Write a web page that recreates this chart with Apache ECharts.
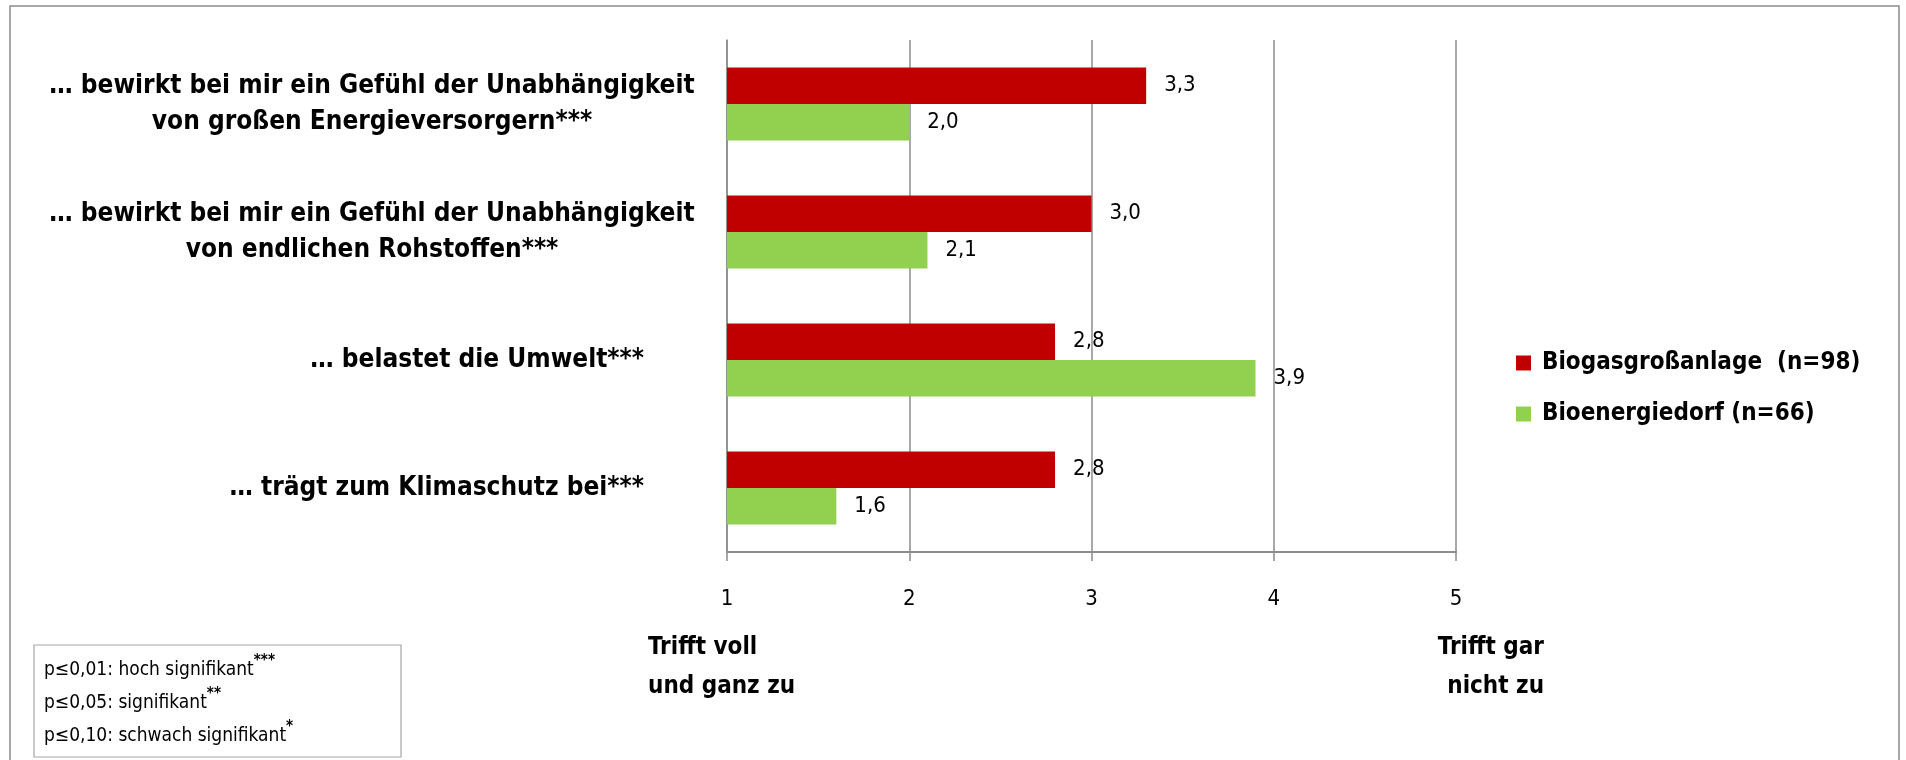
<!DOCTYPE html>
<html>
<head>
<meta charset="utf-8">
<script src="https://cdn.jsdelivr.net/npm/echarts@6/dist/echarts.min.js"></script>
<style>
  html, body { margin: 0; padding: 0; background: #fff; }
  #main { width: 1906px; height: 760px; }
</style>
</head>
<body>
<div id="main"></div>
<script type="text/javascript">
// Daten aus der Grafik
var categories = [
  '… bewirkt bei mir ein Gefühl der Unabhängigkeit\nvon großen Energieversorgern***',
  '… bewirkt bei mir ein Gefühl der Unabhängigkeit\nvon endlichen Rohstoffen***',
  '… belastet die Umwelt***',
  '… trägt zum Klimaschutz bei***'
];
var seriesNames = ['Biogasgroßanlage  (n=98)', 'Bioenergiedorf (n=66)'];
var biogasValues = [3.3, 3.0, 2.8, 2.8];
var dorfValues = [2.0, 2.1, 3.9, 1.6];
var tickLabels = ['1', '2', '3', '4', '5'];
var noteLines = [
  ['p≤0,01: hoch signifikant', '***'],
  ['p≤0,05: signifikant', '**'],
  ['p≤0,10: schwach signifikant', '*']
];

var FONT = "'Liberation Sans Narrow', 'DejaVu Sans Condensed', 'Liberation Sans', sans-serif";
var GRID_LEFT = 727, GRID_TOP = 40, GRID_W = 729, GRID_H = 512;

var myChart = echarts.init(document.getElementById('main'));

function labelFmt(p) {
  return p.value.toFixed(1).replace('.', ',');
}

var option = {
  animation: false,
  backgroundColor: '#fff',
  textStyle: { fontFamily: FONT },
  grid: { left: GRID_LEFT, top: GRID_TOP, width: GRID_W, height: GRID_H },
  legend: {
    orient: 'vertical',
    left: 1511,
    top: 346,
    icon: 'rect',
    itemWidth: 15,
    itemHeight: 15,
    itemGap: 27,
    data: seriesNames,
    textStyle: { fontFamily: FONT, fontSize: 24, fontWeight: 'bold', color: '#000', padding: [0, 0, 0, 6] }
  },
  xAxis: {
    type: 'value',
    min: 1,
    max: 5,
    interval: 1,
    startValue: 1,
    axisLine: { show: true, lineStyle: { color: '#8c8c8c', width: 2 } },
    axisTick: { show: true, length: 9, lineStyle: { color: '#8c8c8c', width: 1.5 } },
    splitLine: { show: true, lineStyle: { color: '#8c8c8c', width: 1.5 } },
    axisLabel: {
      margin: 36,
      fontFamily: FONT,
      fontSize: 22,
      color: '#000',
      formatter: function (v) { return tickLabels[Math.round(v) - 1]; }
    }
  },
  yAxis: {
    type: 'category',
    inverse: true,
    data: categories,
    axisLine: { show: true, lineStyle: { color: '#8c8c8c', width: 1.5 } },
    axisTick: { show: false },
    axisLabel: {
      margin: 32,
      align: 'right',
      formatter: function (v) {
        var lines = v.split('\n');
        if (lines.length > 1) {
          return lines.map(function (l) { return '{c|' + l + '}'; }).join('\n');
        }
        return '{s|' + v + '}';
      },
      rich: {
        c: { width: 646, align: 'center', fontFamily: FONT, fontSize: 26, fontWeight: 'bold', color: '#000', lineHeight: 36 },
        s: { align: 'right', fontFamily: FONT, fontSize: 26, fontWeight: 'bold', color: '#000', lineHeight: 36, padding: [0, 51, 0, 0] }
      }
    }
  },
  series: [
    {
      name: seriesNames[0],
      type: 'bar',
      data: biogasValues,
      barGap: '0%',
      barCategoryGap: '43%',
      itemStyle: { color: '#C00000' },
      label: { show: true, position: 'right', distance: 18, fontFamily: FONT, fontSize: 22, color: '#000', formatter: labelFmt }
    },
    {
      name: seriesNames[1],
      type: 'bar',
      data: dorfValues,
      barGap: '0%',
      barCategoryGap: '43%',
      itemStyle: { color: '#92D050' },
      label: { show: true, position: 'right', distance: 18, fontFamily: FONT, fontSize: 22, color: '#000', formatter: labelFmt }
    }
  ],
  graphic: [
    // Rahmen
    { type: 'rect', shape: { x: 10, y: 6, width: 1889, height: 800 }, style: { fill: 'none', stroke: '#8c8c8c', lineWidth: 1.5 }, silent: true },
    // Achsbeschriftungen unten
    { type: 'text', x: 648, y: 628, style: { text: 'Trifft voll\nund ganz zu', font: 'bold 24px ' + FONT, fill: '#000', lineHeight: 39, align: 'left' } },
    { type: 'text', x: 1544, y: 628, style: { text: 'Trifft gar\nnicht zu', font: 'bold 24px ' + FONT, fill: '#000', lineHeight: 39, align: 'right' } },
    // Signifikanz-Box
    { type: 'rect', shape: { x: 34, y: 645, width: 367, height: 112 }, style: { fill: '#fff', stroke: '#a6a6a6', lineWidth: 1.2 }, silent: true },
    {
      type: 'text', x: 44, y: 654,
      style: {
        text: noteLines.map(function (l) { return '{t|' + l[0] + '}{a|' + l[1] + '}'; }).join('\n'),
        rich: {
          t: { fontFamily: FONT, fontSize: 19, color: '#000', lineHeight: 33 },
          a: { fontFamily: FONT, fontSize: 15, fontWeight: 'bold', color: '#000', verticalAlign: 'top', lineHeight: 33 }
        }
      }
    }
  ]
};

myChart.setOption(option);
</script>
</body>
</html>
